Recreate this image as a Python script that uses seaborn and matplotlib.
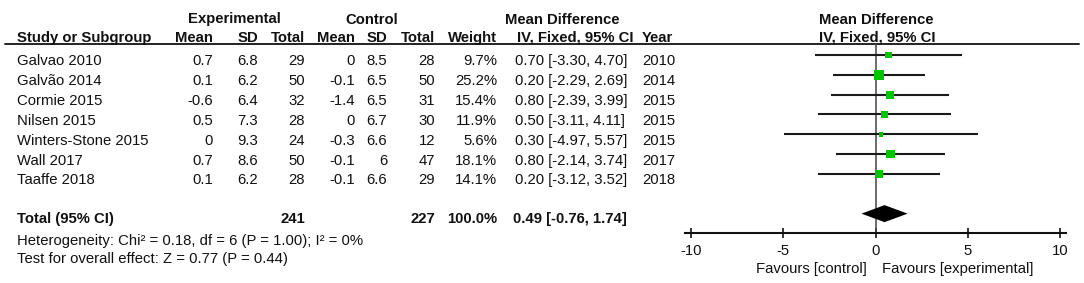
import numpy as np
import matplotlib
matplotlib.use('Agg')
import matplotlib.pyplot as plt
import seaborn as sns

# Dati dello studio (forest plot, Mean Difference, IV fixed)
studies = ['Galvao 2010', 'Galvão 2014', 'Cormie 2015', 'Nilsen 2015',
           'Winters-Stone 2015', 'Wall 2017', 'Taaffe 2018']
exp_mean = [0.7, 0.1, -0.6, 0.5, 0, 0.7, 0.1]
exp_sd = [6.8, 6.2, 6.4, 7.3, 9.3, 8.6, 6.2]
exp_n = [29, 50, 32, 28, 24, 50, 28]
ctl_mean = [0, -0.1, -1.4, 0, -0.3, -0.1, -0.1]
ctl_sd = [8.5, 6.5, 6.5, 6.7, 6.6, 6, 6.6]
ctl_n = [28, 50, 31, 30, 12, 47, 29]
weights = [9.7, 25.2, 15.4, 11.9, 5.6, 18.1, 14.1]
md = [0.70, 0.20, 0.80, 0.50, 0.30, 0.80, 0.20]
ci_lo = [-3.30, -2.29, -2.39, -3.11, -4.97, -2.14, -3.12]
ci_hi = [4.70, 2.69, 3.99, 4.11, 5.57, 3.74, 3.52]
years = [2010, 2014, 2015, 2015, 2015, 2017, 2018]

total_exp_n = 241
total_ctl_n = 227
total_weight = 100.0
total_md = 0.49
total_lo = -0.76
total_hi = 1.74
heterogeneity = 'Heterogeneity: Chi² = 0.18, df = 6 (P = 1.00); I² = 0%'
overall_test = 'Test for overall effect: Z = 0.77 (P = 0.44)'
x_ticks = [-10, -5, 0, 5, 10]

sns.set_theme(style='white')
plt.rcParams['font.family'] = ['Liberation Sans', 'DejaVu Sans']
FS = 10.7
INK = '#111111'
GREEN = '#00C400'

W, H = 1084, 283
fig = plt.figure(figsize=(W / 100, H / 100), dpi=100)

# asse "tabella" in coordinate pixel
ax_t = fig.add_axes([0, 0, 1, 1])
ax_t.set_xlim(0, W)
ax_t.set_ylim(H, 0)
ax_t.axis('off')

# asse del forest plot
L, R, T, B = 685, 1066, 43, 233
ax = fig.add_axes([L / W, (H - B) / H, (R - L) / W, (B - T) / H])
ax.set_facecolor('none')

rows = np.arange(len(studies))
row_px = 19.83
ax.set_xlim(-10.325, 10.325)
ax.set_ylim((B - 55) / row_px, (T - 55) / row_px)

def txt(x, y, s, ha='left', bold=False):
    ax_t.text(x, y, s, ha=ha, va='baseline', fontsize=FS, color=INK,
              fontweight='bold' if bold else 'normal')

# intestazioni
hb1, hb2 = 23.5, 42
txt(234, hb1, 'Experimental', ha='center', bold=True)
txt(372, hb1, 'Control', ha='center', bold=True)
txt(562, hb1, 'Mean Difference', ha='center', bold=True)
txt(876, hb1, 'Mean Difference', ha='center', bold=True)
txt(17, hb2, 'Study or Subgroup', bold=True)
for xr, s in [(213, 'Mean'), (258, 'SD'), (305, 'Total'), (355, 'Mean'),
              (387, 'SD'), (435, 'Total'), (497, 'Weight')]:
    txt(xr, hb2, s, ha='right', bold=True)
txt(517, hb2, 'IV, Fixed, 95% CI', bold=True)
txt(642, hb2, 'Year', bold=True)
txt(877, hb2, 'IV, Fixed, 95% CI', ha='center', bold=True)
ax_t.plot([5, 1079], [43.5, 43.5], color=INK, lw=1.3)

# righe degli studi
for i in rows:
    yb = 65.4 + row_px * i
    txt(17, yb, studies[i])
    txt(213, yb, f'{exp_mean[i]:g}', ha='right')
    txt(258, yb, f'{exp_sd[i]:g}', ha='right')
    txt(305, yb, f'{exp_n[i]}', ha='right')
    txt(355, yb, f'{ctl_mean[i]:g}', ha='right')
    txt(387, yb, f'{ctl_sd[i]:g}', ha='right')
    txt(435, yb, f'{ctl_n[i]}', ha='right')
    txt(497, yb, f'{weights[i]:.1f}%', ha='right')
    txt(515, yb, f'{md[i]:.2f} [{ci_lo[i]:.2f}, {ci_hi[i]:.2f}]')
    txt(642, yb, f'{years[i]}')

# riga totale
yb = 223.4
txt(17, yb, 'Total (95% CI)', bold=True)
txt(305, yb, f'{total_exp_n}', ha='right', bold=True)
txt(435, yb, f'{total_ctl_n}', ha='right', bold=True)
txt(497, yb, f'{total_weight:.1f}%', ha='right', bold=True)
txt(513, yb, f'{total_md:.2f} [{total_lo:.2f}, {total_hi:.2f}]', bold=True)
txt(17, 244.5, heterogeneity)
txt(17, 262.5, overall_test)

# forest plot
ax.axvline(0, color='#444444', lw=1.1, zorder=1)
ax.hlines(rows, ci_lo, ci_hi, color='#1a1a1a', lw=1.5, zorder=2)
sns.scatterplot(x=md, y=rows, size=weights, sizes=(0, 62), size_norm=(0, 30),
                marker='s', color=GREEN, linewidth=0, legend=False, ax=ax, zorder=3)
tot_row = len(studies) + 1
h = 8.5 / row_px
ax.fill([total_lo, total_md, total_hi, total_md],
        [tot_row, tot_row - h, tot_row, tot_row + h], color='black', lw=0, zorder=3)

ax.set_xlabel('')
ax.set_ylabel('')
ax.set_yticks([])
ax.set_xticks(x_ticks)
ax.set_xticklabels([f'{t}' for t in x_ticks], fontsize=FS, color=INK)
for sp in ['top', 'left', 'right']:
    ax.spines[sp].set_visible(False)
ax.spines['bottom'].set_color(INK)
ax.spines['bottom'].set_linewidth(1.5)
ax.tick_params(axis='x', direction='inout', length=7.5, width=1.2, color=INK,
               pad=4, bottom=True)

txt(867, 272.5, 'Favours [control]', ha='right')
txt(882, 272.5, 'Favours [experimental]')

fig.savefig('out.png', dpi=100)
